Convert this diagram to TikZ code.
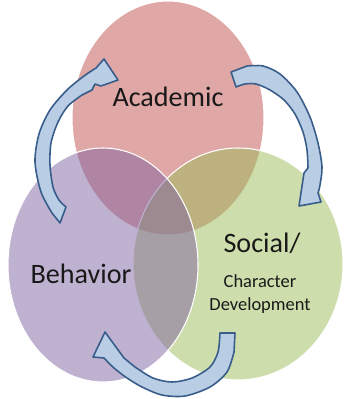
\documentclass[tikz,border=0pt]{standalone}
\usepackage{fontspec}
\setmainfont{Carlito}
\definecolor{acadred}{HTML}{C0504D}
\definecolor{behavpurple}{HTML}{8064A2}
\definecolor{socgreen}{HTML}{9BBB59}
\definecolor{cycfill}{HTML}{B9CDE5}
\definecolor{cycline}{HTML}{385D8A}
\begin{document}
\begin{tikzpicture}[x=0.02cm, y=-0.02cm,
    area/.style={fill opacity=0.5, draw=white, line width=0.6pt},
    cyc/.style={fill=cycfill, draw=cycline, line width=0.9pt, line join=round},
    bigtext/.style={font=\fontsize{16}{19}\selectfont, text=black!90},
    smalltext/.style={font=\fontsize{10.5}{12}\selectfont, text=black!90}]
    \useasboundingbox (0,0) rectangle (345,399);

    % the three areas
    \draw[area, fill=acadred] (168,118) ellipse [x radius=96, y radius=117];
    \draw[area, fill=socgreen] (238,264) ellipse [x radius=105, y radius=116];
    \draw[area, fill=behavpurple] (103,265) ellipse [x radius=95, y radius=117];

    % cycle arrows
    \draw[cyc] (60,223) -- plot[smooth] coordinates {(52,213) (41,192) (35,162) (39,134) (50,110) (67,90) (84,76) (96,68)}
        -- (104,59) -- (118,80) -- (101,86) -- (95,84) -- (92,90)
        -- plot[smooth] coordinates {(82,95) (68,106) (58,122) (51,143) (50,165) (53,187) (59,200) (66,207)} -- cycle;
    \draw[cyc] (231,72) -- plot[smooth] coordinates {(247,66) (263,66) (280,74) (297,92) (310,117) (318,143) (322,167) (320,185) (318,193)}
        -- (321,202) -- (299,206) -- (304,173)
        -- plot[smooth] coordinates {(308,168) (307,150) (303,132) (295,114) (284,100) (270,90) (256,84) (245,84) (236,87)} -- cycle;
    \draw[cyc] (235,333) -- plot[smooth] coordinates {(234,352) (227,372) (210,387) (185,396) (162,395) (142,387) (127,378) (114,368) (104,358)}
        -- (93,357) -- (105,332) -- (124,358)
        -- plot[smooth] coordinates {(135,367) (153,378) (172,382) (192,378) (210,367) (218,352) (220,333)} -- cycle;

    % labels
    \node[bigtext] (academic) at (168,97) {Academic};
    \node[bigtext] (behavior) at (81,274) {Behavior};
    \node[bigtext] (social) at (262,243) {Social/};
    \node[smalltext] (character) at (260,281) {Character};
    \node[smalltext] (development) at (260,306) {Development};
\end{tikzpicture}
\end{document}
